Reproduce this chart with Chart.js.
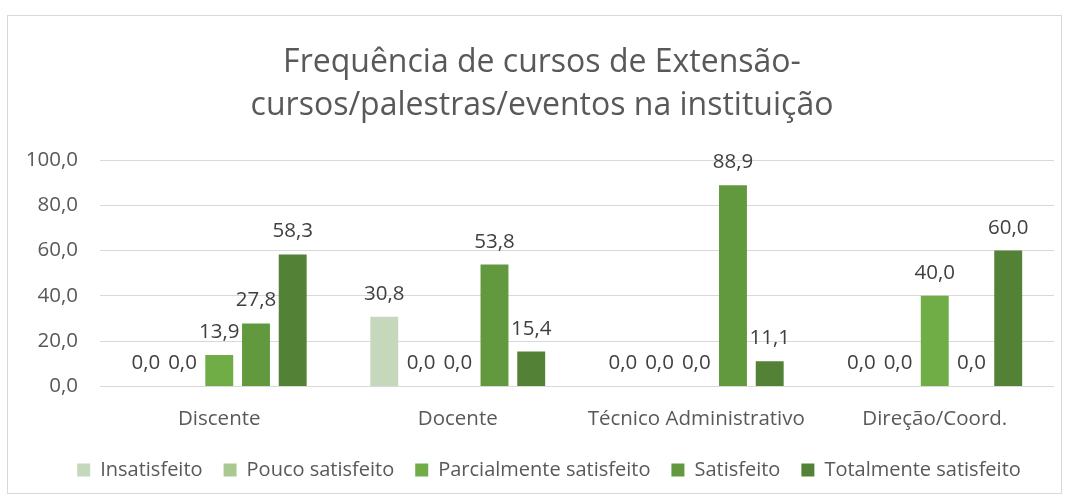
<!DOCTYPE html>
<html>
<head>
<meta charset="utf-8">
<script src="https://cdn.jsdelivr.net/npm/chart.js@4/dist/chart.umd.min.js"></script>
<style>
  html, body { margin: 0; padding: 0; background: #fff; width: 1070px; height: 499px; overflow: hidden; }
  #frame { position: absolute; left: 7px; top: 15px; width: 1055px; height: 479px; border: 1px solid #d9d9d9; box-sizing: border-box; }
  #wrap { position: absolute; left: 22px; top: 23px; width: 1040px; height: 470px; }
</style>
</head>
<body>
<div id="frame"></div>
<div id="wrap"><canvas id="c"></canvas></div>
<script>
// Categories (respondent groups)
const categories = ['Discente', 'Docente', 'Técnico Administrativo', 'Direção/Coord.'];

// Percentages per satisfaction level
const insatisfeito = [0.0, 30.8, 0.0, 0.0];
const poucoSatisfeito = [0.0, 0.0, 0.0, 0.0];
const parcialmenteSatisfeito = [13.9, 0.0, 0.0, 40.0];
const satisfeito = [27.8, 53.8, 88.9, 0.0];
const totalmenteSatisfeito = [58.3, 15.4, 11.1, 60.0];

const seriesNames = ['Insatisfeito', 'Pouco satisfeito', 'Parcialmente satisfeito', 'Satisfeito', 'Totalmente satisfeito'];
const seriesColors = ['#C5D8BB', '#A8C98F', '#70AD47', '#62993E', '#538135'];
const seriesValues = [insatisfeito, poucoSatisfeito, parcialmenteSatisfeito, satisfeito, totalmenteSatisfeito];

// Y axis ticks
const yMin = 0, yMax = 100, yStep = 20;

const fmt = v => v.toFixed(1).replace('.', ',');
const FONT = '"Open Sans", "Noto Sans", sans-serif';

// Value labels drawn above each bar
const valueLabels = {
  id: 'valueLabels',
  afterDatasetsDraw(chart) {
    const ctx = chart.ctx;
    ctx.save();
    ctx.font = '400 20.5px ' + FONT;
    ctx.fillStyle = '#404040';
    ctx.textAlign = 'center';
    ctx.textBaseline = 'alphabetic';
    chart.data.datasets.forEach((ds, i) => {
      const meta = chart.getDatasetMeta(i);
      meta.data.forEach((bar, j) => {
        ctx.fillText(fmt(ds.data[j]), bar.x, bar.y - 17);
      });
    });
    ctx.restore();
  }
};

// Nudge the title and legend blocks sideways after layout
const blockOffsets = {
  id: 'blockOffsets',
  afterLayout(chart) {
    if (chart.titleBlock) { chart.titleBlock.left += 4; chart.titleBlock.right += 4; }
    if (chart.legend) { chart.legend.left += 11; chart.legend.right += 11; }
  }
};

new Chart(document.getElementById('c'), {
  type: 'bar',
  data: {
    labels: categories,
    datasets: seriesNames.map((name, i) => ({
      label: name,
      data: seriesValues[i],
      backgroundColor: seriesColors[i],
      borderWidth: 0,
      categoryPercentage: 0.77,
      barPercentage: 0.76
    }))
  },
  options: {
    responsive: true,
    maintainAspectRatio: false,
    animation: false,
    layout: { padding: { left: 0, right: 8, top: 0, bottom: 3 } },
    plugins: {
      title: {
        display: true,
        text: ['Frequência de cursos de Extensão-', 'cursos/palestras/eventos na instituição'],
        color: '#595959',
        font: { family: FONT, size: 32, weight: '400', lineHeight: 1.344 },
        padding: { top: 18, bottom: 33 }
      },
      legend: {
        position: 'bottom',
        labels: {
          color: '#595959',
          font: { family: FONT, size: 20 },
          boxWidth: 13,
          boxHeight: 13,
          padding: 21
        }
      },
      tooltip: { enabled: false }
    },
    scales: {
      x: {
        grid: { display: false, drawTicks: false },
        border: { display: false },
        ticks: { color: '#595959', font: { family: FONT, size: 20.5 }, padding: 20, maxRotation: 0 },
        afterFit(scale) { scale.height -= 12; }
      },
      y: {
        min: yMin,
        max: yMax,
        grid: { color: '#d9d9d9', lineWidth: 1, drawTicks: false },
        border: { display: false },
        ticks: {
          stepSize: yStep,
          color: '#595959',
          font: { family: FONT, size: 20.5 },
          padding: 22,
          callback: v => fmt(v)
        },
        afterFit(scale) { scale.width = 78; }
      }
    }
  },
  plugins: [valueLabels, blockOffsets]
});
</script>
</body>
</html>
